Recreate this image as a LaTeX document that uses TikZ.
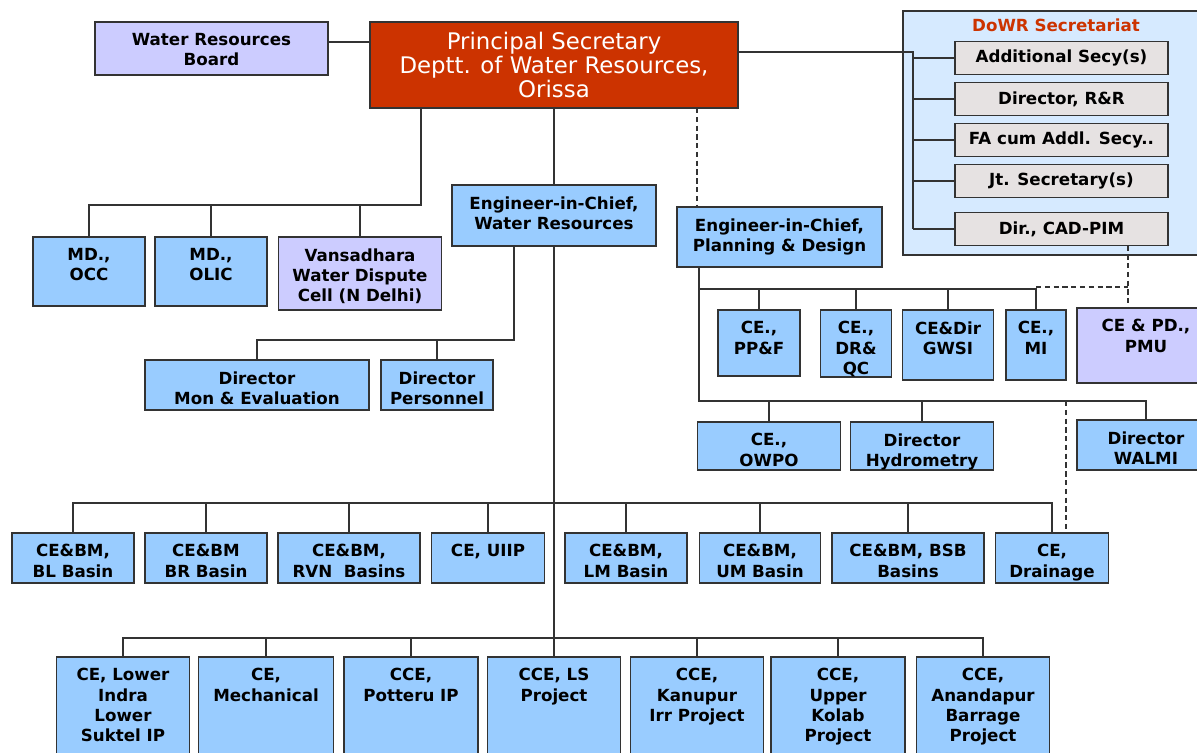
\documentclass[tikz,border=0pt]{standalone}
\usepackage{fontspec}
\setmainfont{DejaVu Sans}
\usepackage{tikz}
\definecolor{psRed}{RGB}{204,51,0}
\definecolor{boxBlue}{RGB}{153,204,255}
\definecolor{boxLilac}{RGB}{204,204,255}
\definecolor{secBlue}{RGB}{214,234,255}
\definecolor{secGrey}{RGB}{230,226,226}
\definecolor{lineGrey}{RGB}{51,51,51}

\begin{document}
\begin{tikzpicture}[x=0.02cm, y=-0.02cm, line width=1.1pt]%
  \tikzset{unit box/.style={draw=lineGrey, fill=boxBlue, inner sep=0pt, outer sep=0pt},
    lilac box/.style={unit box, fill=boxLilac},
    sec box/.style={unit box, fill=secGrey, font=\bfseries\fontsize{9.5}{11}\selectfont},
    wh/.style 2 args={minimum width=#1*0.02cm, minimum height=#2*0.02cm},
    txt/.style={anchor=north, yshift=-6pt, align=center, inner sep=0pt, font=\bfseries\fontsize{9.5}{11.5}\selectfont},
    link/.style={draw=lineGrey},
    dash link/.style={draw=lineGrey, dash pattern=on 3pt off 2pt}}

  \useasboundingbox (0,0) rectangle (1197,753);
  \clip (0,0) rectangle (1197,753);

  % top
  \node[lilac box, wh={233}{53}, label={[txt]north:{Water Resources\\Board}}] at (211.5,48.5) (WRB) {};
  \node[unit box, fill=psRed, wh={368}{86}, text=white, align=center, font=\fontsize{13}{13.6}\selectfont] at (554,65) (PS) {Principal Secretary\\Deptt. of Water Resources,\\Orissa};

  % secretariat
  \node[unit box, fill=secBlue, wh={312}{244}] at (1059,133) (SECR) {};
  \node[inner sep=0pt, text=psRed, font=\bfseries\fontsize{9.5}{11}\selectfont] at (1056,25) (SECRT) {DoWR Secretariat};
  \node[sec box, wh={213}{33}] at (1061.5,58) (ASECY) {Additional Secy(s)};
  \node[sec box, wh={213}{33}] at (1061.5,99) (DIRRR) {Director, R\&R};
  \node[sec box, wh={213}{33}] at (1061.5,140) (FA) {FA cum Addl. Secy..};
  \node[sec box, wh={213}{33}] at (1061.5,181) (JTS) {Jt. Secretary(s)};
  \node[sec box, wh={213}{33}] at (1061.5,229) (CAD) {Dir., CAD-PIM};

  % second level
  \node[unit box, wh={112}{69}, label={[txt]north:{MD.,\\OCC}}] at (89,271.5) (MDOCC) {};
  \node[unit box, wh={112}{69}, label={[txt]north:{MD.,\\OLIC}}] at (211,271.5) (MDOLIC) {};
  \node[lilac box, wh={163}{73}, label={[txt]north:{Vansadhara\\Water Dispute\\Cell (N Delhi)}}] at (360,273.5) (VWDC) {};
  \node[unit box, wh={204}{61}, label={[txt]north:{Engineer-in-Chief,\\Water Resources}}] at (554,215.5) (EICWR) {};
  \node[unit box, wh={205}{60}, label={[txt]north:{Engineer-in-Chief,\\Planning \& Design}}] at (779.5,237) (EICPD) {};
  \node[unit box, wh={224}{50}, label={[txt]north:{Director\\Mon \& Evaluation}}] at (257,385) (DIRME) {};
  \node[unit box, wh={112}{50}, label={[txt]north:{Director\\Personnel}}] at (437,385) (DIRPER) {};

  % planning & design
  \node[unit box, wh={82}{66}, label={[txt]north:{CE.,\\PP\&F}}] at (759,343) (PPF) {};
  \node[unit box, wh={71}{67}, label={[txt]north:{CE.,\\DR\&\\QC}}] at (856,343.5) (DRQC) {};
  \node[unit box, wh={91}{70}, label={[txt]north:{CE\&Dir\\GWSI}}] at (948,345) (GWSI) {};
  \node[unit box, wh={60}{70}, label={[txt]north:{CE.,\\MI}}] at (1036,345) (MI) {};
  \node[lilac box, wh={138}{75}, label={[txt]north:{CE \& PD.,\\PMU}}] at (1146,345.5) (PMU) {};
  \node[unit box, wh={143}{48}, label={[txt]north:{CE.,\\OWPO}}] at (769,446) (OWPO) {};
  \node[unit box, wh={143}{48}, label={[txt]north:{Director\\Hydrometry}}] at (922,446) (HYDRO) {};
  \node[unit box, wh={138}{50}, label={[txt]north:{Director\\WALMI}}] at (1146,445) (WALMI) {};

  % basins
  \node[unit box, wh={122}{50}, label={[txt]north:{CE\&BM,\\BL Basin}}] at (73,558) (BL) {};
  \node[unit box, wh={122}{50}, label={[txt]north:{CE\&BM\\BR Basin}}] at (206,558) (BR) {};
  \node[unit box, wh={142}{50}, label={[txt]north:{CE\&BM,\\RVN~~Basins}}] at (349,558) (RVN) {};
  \node[unit box, wh={113}{50}, label={[txt]north:{CE, UIIP}}] at (488,558) (UIIP) {};
  \node[unit box, wh={122}{50}, label={[txt]north:{CE\&BM,\\LM Basin}}] at (626,558) (LM) {};
  \node[unit box, wh={121}{50}, label={[txt]north:{CE\&BM,\\UM Basin}}] at (760,558) (UM) {};
  \node[unit box, wh={152}{50}, label={[txt]north:{CE\&BM, BSB\\Basins}}] at (908,558) (BSB) {};
  \node[unit box, wh={113}{50}, label={[txt]north:{CE,\\Drainage}}] at (1052,558) (DRAIN) {};

  % projects
  \node[unit box, wh={133}{123}, label={[txt]north:{CE, Lower\\Indra\\Lower\\Suktel IP}}] at (123,718.5) (LIS) {};
  \node[unit box, wh={135}{123}, label={[txt]north:{CE,\\Mechanical}}] at (266,718.5) (MECH) {};
  \node[unit box, wh={134}{123}, label={[txt]north:{CCE,\\Potteru IP}}] at (411,718.5) (POTT) {};
  \node[unit box, wh={133}{123}, label={[txt]north:{CCE, LS\\Project}}] at (554,718.5) (LS) {};
  \node[unit box, wh={133}{123}, label={[txt]north:{CCE,\\Kanupur\\Irr Project}}] at (697,718.5) (KANU) {};
  \node[unit box, wh={134}{123}, label={[txt]north:{CCE,\\Upper\\Kolab\\Project}}] at (838,718.5) (UKOL) {};
  \node[unit box, wh={133}{123}, label={[txt]north:{CCE,\\Anandapur\\Barrage\\Project}}] at (983,718.5) (ANAND) {};

  \coordinate (wrblink) at (0,42);
  \coordinate (secbus) at (913,52);
  \coordinate (mdbus) at (421,205);
  \coordinate (dirbus) at (514,340);
  \coordinate (basinbus) at (0,503);
  \coordinate (projbus) at (0,638);
  \coordinate (pdlink) at (697,0);
  \coordinate (pdbus) at (699,289);
  \coordinate (pdbusb) at (699,401);
  \coordinate (pmulink) at (1128,287);
  \coordinate (drlink) at (1066,401);

  \draw[link] (WRB.east |- wrblink) -- (PS.west |- wrblink);
  \draw[link] (PS.east |- secbus) -- (secbus) -- (secbus |- CAD.west);
  \foreach \n in {ASECY,DIRRR,FA,JTS,CAD}
    \draw[link] (secbus |- \n.west) -- (\n.west);

  \draw[link] (PS.south -| mdbus) -- (mdbus) -| (MDOCC.north);
  \foreach \n in {MDOLIC,VWDC}
    \draw[link] (\n.north) -- (\n.north |- mdbus);

  \draw[link] (PS.south) -- (EICWR.north);
  \draw[link] (EICWR.south) -- (EICWR.south |- projbus);
  \draw[link] (EICWR.south -| dirbus) -- (dirbus) -| (DIRME.north);
  \draw[link] (DIRPER.north) -- (DIRPER.north |- dirbus);

  \draw[link] (BL.north) |- (DRAIN.north |- basinbus) -- (DRAIN.north);
  \foreach \n in {BR,RVN,UIIP,LM,UM,BSB}
    \draw[link] (\n.north) -- (\n.north |- basinbus);
  \draw[link] (LIS.north) |- (ANAND.north |- projbus) -- (ANAND.north);
  \foreach \n in {MECH,POTT,LS,KANU,UKOL}
    \draw[link] (\n.north) -- (\n.north |- projbus);

  \draw[dash link] (PS.south -| pdlink) -- (EICPD.north -| pdlink);
  \draw[link] (EICPD.south -| pdbus) -- (pdbusb) -| (WALMI.north);
  \draw[link] (pdbus) -| (MI.north);
  \foreach \n in {PPF,DRQC,GWSI}
    \draw[link] (\n.north) -- (\n.north |- pdbus);
  \foreach \n in {OWPO,HYDRO}
    \draw[link] (\n.north) -- (\n.north |- pdbusb);
  \draw[dash link] (MI.north |- pmulink) -- (pmulink);
  \draw[dash link] (CAD.south -| pmulink) -- (PMU.north -| pmulink);
  \draw[dash link] (drlink) -- (drlink |- DRAIN.north);
\end{tikzpicture}
\end{document}
